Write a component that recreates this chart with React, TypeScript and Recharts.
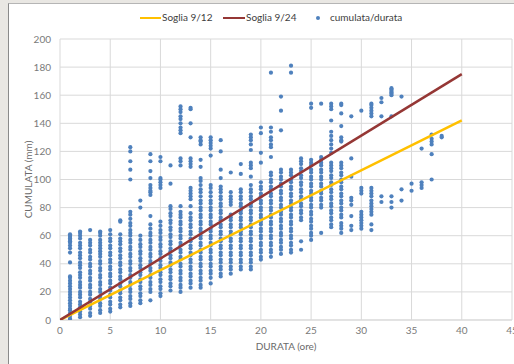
import React from 'react';
import { ScatterChart, Scatter, XAxis, YAxis, CartesianGrid } from 'recharts';

// Durata (ore) of each column of events
const durate = [1, 2, 3, 4, 5, 6, 7, 8, 9, 10, 11, 12, 13, 14, 15, 16, 17, 18, 19, 20, 21, 22, 23, 24, 25, 26, 27, 28, 29, 30, 31, 32, 33, 34, 35, 36, 37, 38];

// Cumulata (mm) observed for each durata
const cumulate: number[][] = [
  [0, 1, 3, 5, 7, 8, 10, 12, 14, 16, 18, 20, 22, 24, 26, 28, 30, 31, 41, 48, 51, 53, 55, 56, 57, 58, 59, 60, 61],
  [2, 4, 6, 9, 11, 13, 16, 18, 20, 23, 25, 27, 30, 32, 34, 37, 39, 41, 44, 46, 48, 51, 53, 55, 58, 60, 62, 63],
  [3, 5, 8, 10, 13, 15, 18, 20, 23, 25, 28, 30, 33, 35, 38, 40, 43, 45, 48, 50, 53, 55, 57, 64],
  [5, 7, 10, 12, 15, 17, 20, 22, 25, 27, 30, 32, 35, 37, 40, 42, 45, 47, 49, 51, 53, 55, 57, 60, 62, 63],
  [6, 8, 11, 13, 16, 18, 21, 23, 26, 28, 31, 33, 36, 38, 41, 43, 46, 48, 51, 53, 56, 58, 61, 64],
  [9, 11, 14, 16, 19, 21, 24, 26, 29, 31, 34, 36, 39, 41, 44, 46, 49, 51, 54, 56, 58, 61, 70, 71],
  [10, 12, 15, 17, 20, 22, 25, 27, 30, 32, 35, 37, 40, 42, 45, 47, 50, 52, 55, 57, 60, 62, 64, 67, 69, 72, 75, 77, 100, 107, 113, 120, 123],
  [12, 14, 17, 19, 22, 24, 27, 29, 32, 34, 37, 39, 42, 44, 47, 49, 52, 54, 57, 60, 80, 85],
  [14, 20, 22, 25, 27, 30, 32, 35, 37, 40, 42, 45, 47, 50, 52, 55, 57, 60, 62, 65, 68, 74, 89, 91, 92, 94, 96, 101, 106, 113, 118],
  [17, 19, 22, 24, 27, 29, 32, 34, 37, 39, 42, 44, 47, 49, 52, 54, 57, 59, 62, 64, 67, 70, 94, 96, 98, 100, 101, 113, 116],
  [21, 24, 26, 29, 31, 34, 36, 39, 41, 44, 46, 49, 51, 54, 56, 59, 61, 64, 66, 69, 71, 74, 76, 79, 81, 97, 110],
  [20, 23, 25, 28, 30, 33, 35, 38, 40, 43, 45, 48, 50, 53, 55, 58, 60, 63, 65, 68, 70, 73, 75, 77, 81, 110, 113, 115, 133, 135, 137, 140, 143, 145, 148, 150, 152],
  [23, 26, 28, 31, 33, 36, 38, 41, 43, 46, 48, 51, 53, 56, 58, 61, 63, 66, 68, 71, 73, 76, 81, 86, 88, 90, 92, 94, 109, 111, 113, 115, 130, 140, 150, 151],
  [23, 25, 28, 30, 33, 35, 38, 40, 43, 45, 48, 50, 53, 55, 58, 60, 63, 65, 68, 70, 73, 75, 78, 80, 83, 85, 88, 91, 93, 96, 99, 101, 109, 114, 125, 127, 128, 130],
  [26, 30, 33, 35, 38, 40, 43, 45, 48, 50, 53, 55, 58, 60, 63, 65, 68, 70, 73, 75, 78, 80, 83, 85, 88, 91, 94, 96, 117, 122, 124, 126, 128, 130],
  [31, 33, 36, 38, 41, 43, 46, 48, 51, 53, 56, 58, 61, 63, 66, 68, 71, 73, 76, 78, 81, 83, 86, 88, 91, 93, 95, 101, 107, 120, 128],
  [33, 36, 38, 41, 43, 46, 48, 51, 53, 56, 58, 61, 63, 66, 68, 71, 73, 75, 82, 84, 86, 88, 91, 105],
  [36, 38, 41, 43, 46, 48, 51, 53, 56, 58, 61, 63, 66, 68, 71, 73, 76, 78, 81, 83, 86, 88, 91, 93, 104, 111],
  [36, 38, 41, 43, 46, 48, 51, 53, 56, 58, 61, 63, 66, 68, 71, 73, 76, 78, 81, 83, 86, 88, 91, 93, 96, 102, 108, 110, 112, 121, 125, 128, 130, 132],
  [43, 45, 48, 50, 53, 55, 58, 60, 63, 65, 68, 70, 73, 75, 78, 80, 83, 85, 88, 90, 93, 95, 98, 112, 119, 133, 137],
  [45, 48, 50, 53, 55, 58, 60, 63, 65, 68, 70, 73, 75, 78, 80, 83, 85, 88, 90, 93, 95, 98, 100, 103, 105, 116, 123, 125, 128, 130, 134, 137, 176],
  [47, 50, 52, 55, 57, 60, 62, 65, 67, 70, 72, 75, 77, 80, 82, 85, 87, 90, 92, 95, 97, 100, 102, 105, 107, 135, 149, 159],
  [48, 50, 53, 55, 58, 60, 63, 65, 68, 70, 73, 75, 78, 80, 83, 85, 88, 90, 93, 95, 98, 100, 103, 105, 107, 176, 181],
  [50, 56, 71, 73, 76, 78, 81, 83, 86, 88, 91, 93, 96, 98, 101, 103, 106, 108, 111, 113, 115],
  [57, 60, 62, 65, 67, 70, 72, 75, 77, 80, 82, 85, 87, 90, 92, 95, 97, 100, 102, 105, 107, 110, 112, 114, 151, 154],
  [62, 80, 82, 85, 87, 90, 92, 95, 97, 100, 102, 105, 107, 110, 112, 114, 116, 154],
  [66, 68, 71, 73, 76, 78, 81, 83, 86, 88, 91, 93, 96, 98, 101, 103, 106, 108, 110, 112, 119, 122, 125, 128, 131, 134, 142, 150, 152, 154],
  [62, 65, 67, 69, 73, 75, 78, 80, 83, 85, 88, 90, 93, 95, 98, 100, 103, 105, 108, 110, 112, 127, 128, 130, 138, 147, 153, 154],
  [64, 67, 74, 82, 85, 87, 102, 115, 145],
  [65, 67, 69, 71, 73, 75, 77, 90, 92, 94, 149],
  [64, 68, 75, 77, 79, 81, 83, 85, 88, 90, 92, 94, 145, 147, 149, 151, 153, 154],
  [84, 88, 145, 155, 158],
  [80, 84, 88, 145, 160, 161, 162, 163, 164, 165],
  [85, 93, 159],
  [92, 97],
  [94, 96, 98, 122],
  [100, 118, 125, 127, 129, 132],
  [130, 131],
];

// Soglie (threshold lines)
const sogliaDurata = [0, 40];
const soglia912 = [0, 142];
const soglia924 = [0, 175];

const xTicks = [0, 5, 10, 15, 20, 25, 30, 35, 40, 45];
const yTicks = [0, 20, 40, 60, 80, 100, 120, 140, 160, 180, 200];

const punti = durate.flatMap((d, i) => cumulate[i].map((v) => ({ x: d, y: v })));
const linea912 = sogliaDurata.map((d, i) => ({ x: d, y: soglia912[i] }));
const linea924 = sogliaDurata.map((d, i) => ({ x: d, y: soglia924[i] }));

const FONT = 'Lato, "Open Sans", sans-serif';
const BLUE = '#4F81BD';
const YELLOW = '#FFC000';
const RED = '#953735';

const Dot = (p: any) => <circle cx={p.cx} cy={p.cy} r={2.1} fill={BLUE} />;
const NoShape = () => <g />;

export default function App() {
  return (
    <div style={{ position: 'absolute', left: 0, top: 0, width: 514, height: 364, background: '#e9e7e3', overflow: 'hidden' }}>
      <div
        style={{
          position: 'absolute',
          left: 8,
          top: 3,
          width: 506,
          height: 361,
          background: '#ffffff',
          borderLeft: '1px solid #8a8a8a',
          borderTop: '1px solid #b5b5b5',
          boxSizing: 'border-box',
        }}
      />
      {/* Legend */}
      <div
        style={{
          position: 'absolute',
          left: 0,
          top: 10,
          width: 514,
          height: 16,
          fontFamily: FONT,
          fontSize: 10,
          color: '#404040',
        }}
      >
        <div style={{ position: 'absolute', left: 140, top: 7, width: 21, height: 2, background: YELLOW }} />
        <div style={{ position: 'absolute', left: 162, top: 1, whiteSpace: 'nowrap' }}>Soglia 9/12</div>
        <div style={{ position: 'absolute', left: 223, top: 7, width: 22, height: 2, background: RED }} />
        <div style={{ position: 'absolute', left: 246, top: 1, whiteSpace: 'nowrap' }}>Soglia 9/24</div>
        <div style={{ position: 'absolute', left: 316, top: 6, width: 4, height: 4, borderRadius: 2, background: BLUE }} />
        <div style={{ position: 'absolute', left: 330, top: 1, whiteSpace: 'nowrap' }}>cumulata/durata</div>
      </div>
      <div style={{ position: 'absolute', left: 0, top: 0 }}>
        <ScatterChart width={514} height={364} margin={{ top: 39, right: 2, bottom: 14, left: 10 }}>
          <CartesianGrid stroke="#d9d9d9" strokeWidth={1} />
          <XAxis
            type="number"
            dataKey="x"
            domain={[0, 45]}
            ticks={xTicks}
            interval={0}
            allowDataOverflow
            axisLine={{ stroke: '#d9d9d9' }}
            tickLine={false}
            tickSize={0}
            tickMargin={7}
            height={30}
            tick={{ fill: '#7a7a7a', fontSize: 10, fontFamily: FONT }}
            label={{
              value: 'DURATA (ore)',
              position: 'insideBottom',
              offset: 0,
              style: { fill: '#6a6a6a', fontSize: 10, fontFamily: FONT },
            }}
          />
          <YAxis
            type="number"
            dataKey="y"
            domain={[0, 200]}
            ticks={yTicks}
            interval={0}
            allowDataOverflow
            axisLine={false}
            tickLine={false}
            tickSize={0}
            tickMargin={9}
            width={50}
            tick={{ fill: '#7a7a7a', fontSize: 10, fontFamily: FONT }}
            label={{
              content: (props: any) => {
                const vb = props.viewBox || { x: 10, y: 39, width: 50, height: 281 };
                const cx = 28;
                const cy = vb.y + vb.height / 2;
                return (
                  <text
                    x={cx}
                    y={cy}
                    transform={`rotate(-90 ${cx} ${cy})`}
                    textAnchor="middle"
                    dominantBaseline="central"
                    fill="#6a6a6a"
                    fontSize={10}
                    fontFamily={FONT}
                  >
                    CUMULATA (mm)
                  </text>
                );
              },
            }}
          />
          <Scatter data={punti} shape={Dot} isAnimationActive={false} />
          <Scatter
            data={linea912}
            shape={NoShape}
            line={{ stroke: YELLOW, strokeWidth: 2.5 }}
            lineType="joint"
            isAnimationActive={false}
          />
          <Scatter
            data={linea924}
            shape={NoShape}
            line={{ stroke: RED, strokeWidth: 2.5 }}
            lineType="joint"
            isAnimationActive={false}
          />
        </ScatterChart>
      </div>
    </div>
  );
}
